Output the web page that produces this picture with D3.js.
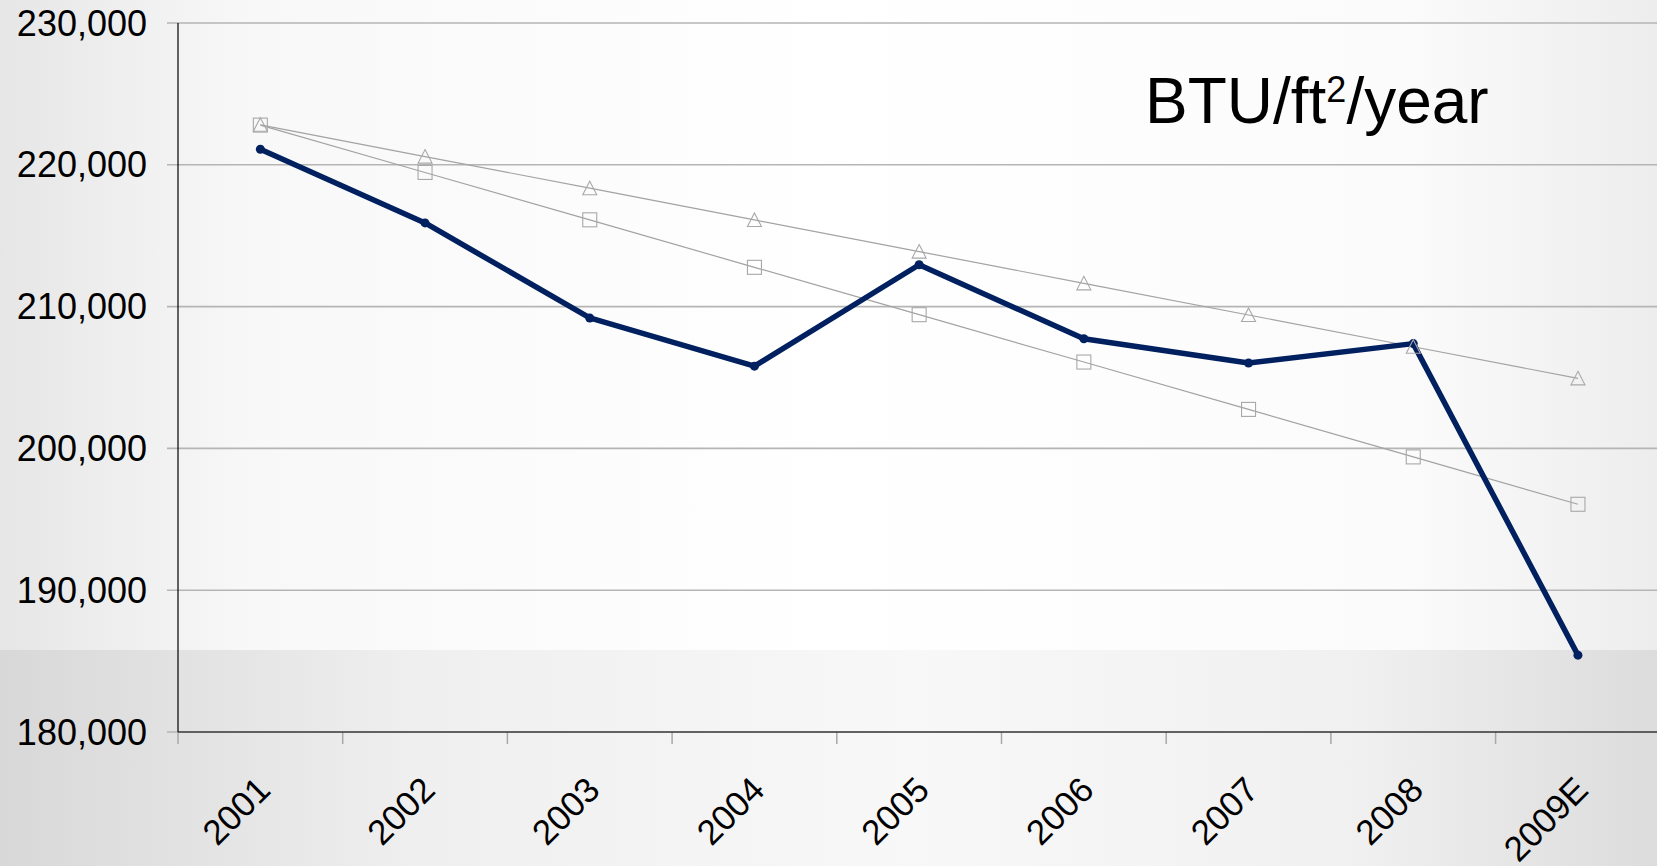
<!DOCTYPE html>
<html lang="en">
<head>
<meta charset="utf-8">
<title>BTU/ft2/year</title>
<style>
  html, body { margin: 0; padding: 0; overflow: hidden; }
  svg { display: block; font-family: "Liberation Sans", Arial, sans-serif; }
</style>
<script src="https://d3js.org/d3.v7.min.js"></script>
</head>
<body>
<svg id="chart" width="1657" height="866"></svg>
<script>

// values
var years = ["2001", "2002", "2003", "2004", "2005", "2006", "2007", "2008", "2009E"];
var actual = [221100, 215900, 209200, 205800, 212950, 207730, 206020, 207390, 185420];
var trendTri = [222820, 220580, 218350, 216110, 213880, 211640, 209410, 207170, 204940];
var trendSq = [222800, 219460, 216120, 212770, 209430, 206090, 202750, 199400, 196060];
var yTicks = [180000, 190000, 200000, 210000, 220000, 230000];

var W = 1657, H = 866,
    plotLeft = 178, plotTop = 23, plotBottom = 732,
    band = 164.7;

var svg = d3.select("#chart");

// slide background
var defs = svg.append("defs");
var g1 = defs.append("linearGradient").attr("id", "bgTop");
[[0, "#e6e6e6"], [0.15, "#f8f8f8"], [0.5, "#ffffff"], [0.85, "#fbfbfb"], [1, "#ededed"]]
  .forEach(function(s) { g1.append("stop").attr("offset", s[0]).attr("stop-color", s[1]); });
var g2 = defs.append("linearGradient").attr("id", "bgBot");
[[0, "#d8d8d8"], [0.25, "#efefef"], [0.55, "#f8f8f8"], [0.82, "#f0f0f0"], [1, "#dcdcdc"]]
  .forEach(function(s) { g2.append("stop").attr("offset", s[0]).attr("stop-color", s[1]); });

svg.append("rect").attr("width", W).attr("height", H).attr("fill", "url(#bgTop)");
svg.append("rect").attr("y", 650).attr("width", W).attr("height", H - 650).attr("fill", "url(#bgBot)");

var x = d3.scaleBand().domain(years).range([plotLeft, plotLeft + band * years.length]);
var y = d3.scaleLinear().domain([180000, 230000]).range([plotBottom, plotTop]);

// gridlines + left ticks
svg.append("g").selectAll("line")
  .data(yTicks)
  .enter().append("line")
    .attr("x1", plotLeft - 11).attr("x2", W)
    .attr("y1", function(d) { return y(d); })
    .attr("y2", function(d) { return y(d); })
    .attr("stroke", "#b5b5b5")
    .attr("stroke-width", 1.6);

svg.append("g").selectAll("text")
  .data(yTicks)
  .enter().append("text")
    .attr("x", 147)
    .attr("y", function(d) { return y(d); })
    .attr("dy", "0.35em")
    .attr("text-anchor", "end")
    .attr("font-size", 36)
    .attr("fill", "#000")
    .text(d3.format(","));

// x ticks at category boundaries
svg.append("g").selectAll("line")
  .data(years)
  .enter().append("line")
    .attr("x1", function(d) { return x(d); })
    .attr("x2", function(d) { return x(d); })
    .attr("y1", plotBottom).attr("y2", plotBottom + 12)
    .attr("stroke", "#a8a8a8")
    .attr("stroke-width", 1.5);

// axes lines
svg.append("line").attr("x1", plotLeft).attr("x2", plotLeft).attr("y1", plotTop).attr("y2", plotBottom)
  .attr("stroke", "#000").attr("stroke-width", 1.2);
svg.append("line").attr("x1", plotLeft).attr("x2", W).attr("y1", plotBottom).attr("y2", plotBottom)
  .attr("stroke", "#000").attr("stroke-width", 1.2);

// category labels, rotated
svg.append("g").selectAll("text")
  .data(years)
  .enter().append("text")
    .attr("transform", function(d) {
      return "translate(" + (x(d) + x.bandwidth() / 2 + 12) + "," + 792 + ") rotate(-45)";
    })
    .attr("text-anchor", "end")
    .attr("font-size", 35)
    .attr("fill", "#000")
    .text(function(d) { return d; });

var cx = function(d, i) { return x(years[i]) + x.bandwidth() / 2; };
var line = d3.line()
    .x(function(d, i) { return cx(d, i); })
    .y(function(d) { return y(d); });

// trend lines
[trendTri, trendSq].forEach(function(s) {
  svg.append("path").datum(s)
    .attr("d", line)
    .attr("fill", "none")
    .attr("stroke", "#a3a3a3")
    .attr("stroke-width", 1.2);
});

// main series
svg.append("path").datum(actual)
  .attr("d", line)
  .attr("fill", "none")
  .attr("stroke", "#002060")
  .attr("stroke-width", 5.5)
  .attr("stroke-linejoin", "round");

svg.append("g").selectAll("circle")
  .data(actual)
  .enter().append("circle")
    .attr("cx", cx)
    .attr("cy", function(d) { return y(d); })
    .attr("r", 4.5)
    .attr("fill", "#002060");

// markers
svg.append("g").selectAll("path")
  .data(trendTri)
  .enter().append("path")
    .attr("transform", function(d, i) { return "translate(" + cx(d, i) + "," + y(d) + ")"; })
    .attr("d", "M0,-7L7,6.5L-7,6.5Z")
    .attr("fill", "none")
    .attr("stroke", "#a8a8a8")
    .attr("stroke-width", 1.1);

svg.append("g").selectAll("rect")
  .data(trendSq)
  .enter().append("rect")
    .attr("x", function(d, i) { return cx(d, i) - 7; })
    .attr("y", function(d) { return y(d) - 7; })
    .attr("width", 14).attr("height", 14)
    .attr("fill", "none")
    .attr("stroke", "#a8a8a8")
    .attr("stroke-width", 1.1);

// unit title
var t = svg.append("text")
  .attr("x", 1145).attr("y", 123)
  .attr("font-size", 64)
  .attr("fill", "#000");
t.append("tspan").text("BTU/ft");
t.append("tspan").attr("font-size", 36).attr("dy", -21).text("2");
t.append("tspan").attr("dy", 21).text("/year");

</script>
</body>
</html>
